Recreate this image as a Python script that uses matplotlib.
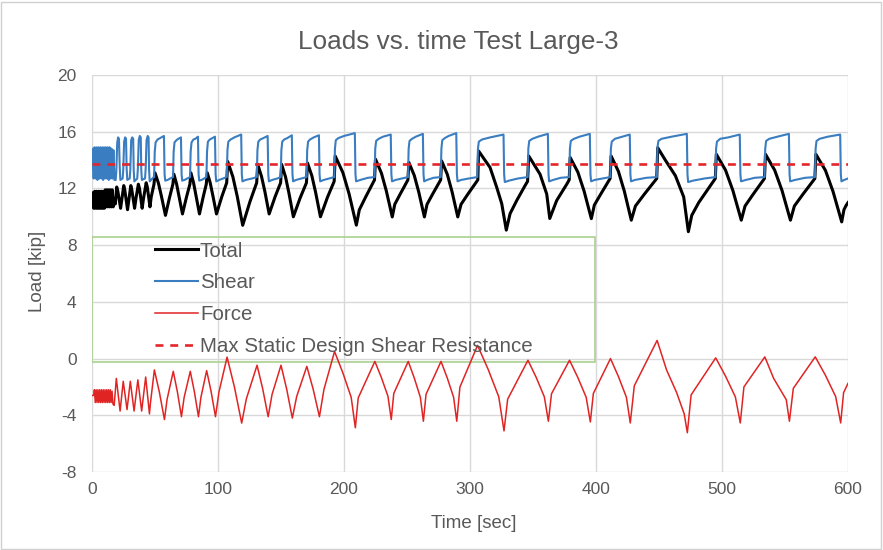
import numpy as np
from matplotlib import pyplot as plt
from matplotlib.patches import Rectangle

plt.rcParams['font.family'] = ['Liberation Sans', 'DejaVu Sans']
plt.rcParams['axes.unicode_minus'] = False

# (time [sec], load [kip]) vertices
shear = [
    # fast start-up cycles
    (0, 13.4), (0.5, 14.8), (1.3, 12.7), (2.0, 14.9), (2.8, 12.7), (3.5, 14.9), (4.3, 12.6),
    (5.0, 14.9), (5.8, 12.7), (6.5, 14.9), (7.3, 12.7), (8.0, 14.9), (8.8, 12.6), (9.5, 14.9),
    (10.3, 12.7), (11.0, 14.9), (11.8, 12.7), (12.5, 14.9), (13.3, 12.6), (14.0, 14.9),
    (14.8, 12.7), (15.5, 14.8), (16.3, 12.7), (17.0, 14.7), (17.8, 12.6),
    # narrow cycles
    (18.8, 12.6), (19.3, 13.2), (20.0, 15.2), (20.7, 15.6), (21.4, 15.5), (22.0, 13.5), (22.5, 12.6),
    (24.3, 12.7), (24.8, 13.3), (25.5, 15.3), (26.3, 15.6), (27.0, 15.5), (27.5, 13.4), (28.0, 12.6),
    (29.9, 12.7), (30.4, 13.3), (31.1, 15.4), (31.9, 15.6), (32.7, 15.5), (33.1, 13.3), (33.6, 12.5),
    (35.9, 12.7), (36.4, 13.4), (37.1, 15.4), (37.9, 15.7), (38.7, 15.6), (39.1, 13.3), (39.6, 12.6),
    (42.1, 12.7), (42.6, 13.4), (43.3, 15.4), (44.2, 15.7), (44.9, 15.6), (45.3, 13.3), (45.8, 12.5),
    (49.0, 12.8),
    # long cycles
    (49.3, 12.8), (49.8, 14.6), (50.5, 15.25), (52.0, 15.45), (54.0, 15.55), (57.1, 15.7), (57.6, 13.0), (58.1, 12.55), (60, 12.6), (62, 12.7),
    (64.3, 12.8), (64.8, 14.6), (65.5, 15.25), (67, 15.4), (68.5, 15.5), (70.6, 15.6), (71.1, 13.0), (71.6, 12.55), (73.5, 12.6), (75.5, 12.7),
    (77.8, 12.8), (78.3, 14.6), (79, 15.25), (80.5, 15.45), (82, 15.5), (84.1, 15.65), (84.6, 13.0), (85.1, 12.55), (87, 12.6), (89, 12.7),
    (90.8, 12.8), (91.3, 14.6), (92, 15.3), (93.5, 15.45), (95.5, 15.55), (97.6, 15.65), (98.1, 13.0), (98.6, 12.5), (101, 12.6), (104, 12.7),
    (107.0, 12.8), (107.5, 14.7), (108.2, 15.3), (110, 15.45), (113, 15.6), (118.4, 15.8), (118.9, 13.0), (119.4, 12.5), (122, 12.6), (127, 12.7),
    (130.8, 12.8), (131.3, 14.7), (132, 15.3), (133.5, 15.45), (136, 15.55), (139.4, 15.7), (139.9, 13.0), (140.4, 12.5), (143, 12.6), (147, 12.7),
    (149.8, 12.8), (150.3, 14.7), (151, 15.3), (152.5, 15.45), (155, 15.55), (158.6, 15.75), (159.1, 13.0), (159.6, 12.5), (162, 12.6), (166, 12.7),
    (170.3, 12.8), (170.8, 14.7), (171.5, 15.3), (173, 15.45), (176, 15.6), (180.1, 15.75), (180.6, 13.0), (181.1, 12.5), (184, 12.6), (188, 12.7),
    (192.3, 12.8), (192.8, 14.8), (193.5, 15.4), (195.5, 15.55), (200, 15.7), (208.6, 15.9), (209.1, 13.0), (209.6, 12.5), (213, 12.6), (219, 12.75),
    (224.3, 12.8), (224.8, 14.8), (225.5, 15.35), (227.5, 15.5), (231, 15.65), (237.1, 15.8), (237.6, 13.0), (238.1, 12.5), (241, 12.6), (246, 12.7),
    (250.8, 12.8), (251.3, 14.8), (252, 15.35), (254, 15.5), (257, 15.65), (262.6, 15.85), (263.1, 13.0), (263.6, 12.5), (266, 12.6), (271, 12.75),
    (276.8, 12.8), (277.3, 14.8), (278, 15.4), (280, 15.55), (283, 15.7), (289.1, 15.9), (289.6, 13.0), (290.1, 12.5), (293, 12.6), (299, 12.7),
    (305.8, 12.8), (306.3, 14.8), (307, 15.3), (309.5, 15.45), (316, 15.6), (326.6, 15.8), (327.1, 13.0), (327.6, 12.45), (331, 12.55), (338, 12.7),
    (345.8, 12.8), (346.3, 14.8), (347, 15.35), (349.5, 15.5), (354, 15.65), (361.8, 15.85), (362.3, 13.0), (362.8, 12.5), (366, 12.6), (372, 12.75),
    (378.8, 12.8), (379.3, 14.8), (380, 15.35), (382.5, 15.5), (387, 15.65), (395.1, 15.85), (395.6, 13.0), (396.1, 12.5), (399, 12.6), (405, 12.7),
    (411.3, 12.8), (411.8, 14.8), (412.5, 15.3), (415, 15.5), (419, 15.6), (426.8, 15.8), (427.3, 13.0), (427.8, 12.5), (431, 12.6), (440, 12.75),
    (448.3, 12.8), (448.8, 14.9), (449.5, 15.35), (452, 15.5), (460, 15.65), (472.1, 15.85), (472.6, 13.0), (473.1, 12.45), (477, 12.55), (486, 12.7),
    (494.8, 12.8), (495.3, 14.8), (496, 15.3), (498.5, 15.5), (505, 15.6), (514.1, 15.8), (514.6, 13.0), (515.1, 12.5), (519, 12.6), (526, 12.75),
    (533.8, 12.8), (534.3, 14.8), (535, 15.35), (537.5, 15.5), (544, 15.65), (553.1, 15.85), (553.6, 13.0), (554.1, 12.5), (558, 12.6), (566, 12.75),
    (573.8, 12.8), (574.3, 14.8), (575, 15.35), (577.5, 15.5), (584, 15.65), (593.8, 15.8), (594.3, 13.0), (594.8, 12.5), (597, 12.6), (600, 12.7),
]

force = [
    (0, -2.6), (1.4, -2.6), (1.9, -2.2), (2.6, -3.1), (3.3, -2.2), (4.0, -3.1), (4.7, -2.2),
    (5.4, -3.1), (6.1, -2.2), (6.8, -3.1), (7.5, -2.2), (8.2, -3.1), (8.9, -2.2), (9.6, -3.1),
    (10.3, -2.2), (11.0, -3.1), (11.7, -2.2), (12.4, -3.1), (13.1, -2.2), (13.8, -3.1),
    (14.5, -2.2), (15.2, -3.1), (15.9, -2.3), (16.6, -3.2),
    (17.6, -3.3), (19.3, -1.4), (22.3, -3.7), (24.8, -1.6), (27.8, -3.6), (30.4, -1.6),
    (33.4, -3.7), (36.4, -1.5), (39.4, -3.7), (42.6, -1.3), (45.6, -3.9), (46.3, -3.2),
    (49.5, -0.8), (53.5, -2.38), (57.5, -4.3), (59.6, -2.87),
    (64.5, -0.9), (67.75, -2.34), (71, -4.1), (73.1, -2.75),
    (78, -0.9), (81.25, -2.34), (84.5, -4.1), (86.45, -2.73),
    (91, -0.85), (94.5, -2.31), (98, -4.1), (100.8, -2.34),
    (107.2, 0.1), (113, -1.99), (118.8, -4.55), (122.5, -2.84),
    (131, -0.47), (135.4, -2.1), (139.8, -4.1), (142.9, -2.53),
    (150, -0.47), (154.5, -2.15), (159, -4.2), (162.45, -2.67),
    (170.5, -0.55), (175.5, -2.15), (180.5, -4.1), (184.1, -2.17),
    (192.5, 0.5), (199.1, -1.01), (205.7, -2.73), (209, -4.88), (211.3, -2.77),
    (224.5, -0.2), (229.7, -1.35), (234.9, -2.66), (237.5, -4.3), (239.5, -2.46),
    (251, -0.2), (255.8, -1.38), (260.6, -2.73), (263, -4.42), (265.1, -2.52),
    (277, -0.2), (282, -1.38), (287, -2.73), (289.5, -4.42), (292, -2.01),
    (306, 0.93), (314.4, -0.76), (322.8, -2.69), (327, -5.1), (329.9, -2.86),
    (346, -0.12), (352.5, -1.32), (359, -2.7), (362.2, -4.42), (364.7, -2.48),
    (379, -0.12), (385.6, -1.34), (392.2, -2.73), (395.5, -4.47), (397.9, -2.46),
    (411.5, 0.0), (417.8, -1.27), (424.1, -2.72), (427.2, -4.54), (430.4, -1.92),
    (448.5, 1.28), (456, -0.8), (464, -2.4), (470, -3.9), (472.5, -5.23), (475.5, -2.56),
    (495, 0.05), (502.8, -1.24), (510.6, -2.7), (514.5, -4.54), (517.4, -2.0),
    (534, 0.12), (541, -1.4), (551, -2.9), (553.5, -4.42), (556.6, -2.1),
    (574, 0.12), (582.1, -1.18), (590.2, -2.68), (594.2, -4.54), (596.5, -2.4), (600, -1.75),
]

total = [
    (0, 11.0), (0.7, 11.7), (1.4, 10.6), (2.1, 11.8), (2.8, 10.6), (3.5, 11.8), (4.2, 10.6),
    (4.9, 11.8), (5.6, 10.6), (6.3, 11.8), (7.0, 10.6), (7.7, 11.8), (8.4, 10.6), (9.1, 11.8),
    (9.8, 10.6), (10.5, 11.9), (11.2, 10.7), (11.9, 11.9), (12.6, 10.7), (13.3, 11.9),
    (14.0, 10.7), (14.7, 11.9), (15.4, 10.7), (16.1, 11.9), (16.8, 10.7), (17.6, 11.3),
    (18.5, 10.9), (19.6, 12.1), (20.5, 11.8), (22.7, 10.6), (23.8, 11.3), (25.2, 12.2),
    (26.0, 11.9), (28.2, 10.5), (29.3, 11.2), (30.8, 12.2), (31.6, 11.9), (33.8, 10.6),
    (34.9, 11.3), (36.8, 12.3), (37.7, 12.0), (39.8, 10.6), (40.9, 11.3), (43.0, 12.4),
    (43.9, 12.1), (46.0, 10.7), (47.0, 11.4), (49.2, 12.3),
    (50.0, 13.1), (52.7, 12.38), (55.1, 11.45), (58.3, 10.1), (61.4, 11.31), (64.2, 12.3),
    (65.0, 13.0), (67.1, 12.33), (69.05, 11.46), (71.8, 10.2), (74.9, 11.36), (77.7, 12.3),
    (78.5, 13.1), (80.6, 12.4), (82.55, 11.5), (85.3, 10.2), (88.15, 11.36), (90.7, 12.3),
    (91.5, 13.1), (93.8, 12.4), (95.9, 11.5), (98.8, 10.2), (103.0, 11.41), (106.9, 12.4),
    (107.7, 13.9), (111.8, 12.82), (115.3, 11.43), (119.6, 9.4), (125.3, 11.05), (130.7, 12.4),
    (131.5, 13.7), (134.5, 12.86), (137.2, 11.78), (140.6, 10.2), (145.3, 11.41), (149.7, 12.4),
    (150.5, 13.7), (153.6, 12.81), (156.3, 11.67), (159.8, 10.0), (165.15, 11.32), (170.2, 12.4),
    (171.0, 13.8), (174.5, 12.89), (177.5, 11.71), (181.3, 10.0), (186.9, 11.38), (192.2, 12.5),
    (193.0, 14.29), (199.1, 13.12), (204.05, 11.61), (209.8, 9.41), (212.15, 10.49), (217.15, 11.39), (224.2, 12.6),
    (225.0, 14.06), (229.7, 13.08), (233.6, 11.82), (238.3, 9.99), (240.3, 10.88), (244.65, 11.61), (250.7, 12.6),
    (251.5, 13.83), (255.8, 12.91), (259.4, 11.72), (263.8, 9.99), (265.9, 10.88), (270.4, 11.61), (276.7, 12.6),
    (277.5, 13.94), (282.0, 12.99), (285.75, 11.77), (290.3, 9.99), (292.9, 10.88), (298.4, 11.61), (306.2, 12.6),
    (306.8, 14.64), (315.9, 13.48), (321.2, 12.08), (325.2, 10.92), (328.8, 9.06), (331.8, 10.22), (337.1, 11.15), (343.7, 12.2), (345.7, 12.5),
    (346.6, 14.29), (355.6, 13.0), (360.9, 11.6), (363.3, 9.88), (368.8, 11.15), (376.8, 12.3), (378.7, 12.6),
    (379.5, 14.18), (385.6, 13.15), (390.55, 11.81), (396.3, 9.87), (398.7, 10.83), (403.9, 11.62), (411.2, 12.7),
    (412.0, 14.29), (417.8, 13.2), (422.5, 11.8), (428.0, 9.76), (431.3, 10.76), (438.25, 11.58), (448.2, 12.7),
    (449.0, 14.87), (455, 14.0), (463, 12.9), (469.6, 11.4), (473.3, 8.95), (476, 10.1), (481.5, 11.0), (494.7, 12.7),
    (495.5, 14.41), (502.8, 13.29), (508.65, 11.85), (515.3, 9.76), (518.3, 10.76), (524.65, 11.58), (533.7, 12.7),
    (534.5, 14.41), (541.8, 13.29), (547.65, 11.85), (554.3, 9.76), (557.45, 10.76), (564.15, 11.58), (573.7, 12.7),
    (574.5, 14.41), (582.1, 13.27), (588.1, 11.79), (595.0, 9.64), (596.8, 10.5), (598.5, 10.8), (600, 11.0),
]

max_static_shear = 13.7   # kip
t_range = [0, 600]

grey_text = '#595959'
c_total = 'black'
c_shear = '#3A7DC0'
c_force = '#E02424'
c_max = '#E3262A'

fig = plt.figure(figsize=(8.83, 5.5), dpi=100)
ax = fig.add_axes([92/883, 1 - 472/550, 756/883, 397/550])

tt, tv = np.array(total).T
st, sv = np.array(shear).T
ft, fv = np.array(force).T

ax.plot(tt, tv, color=c_total, lw=2.2, label='Total', zorder=3)
ax.plot(st, sv, color=c_shear, lw=1.5, label='Shear', zorder=4)
ax.plot(ft, fv, color=c_force, lw=1.1, label='Force', zorder=4)
ax.plot(t_range, [max_static_shear]*2, color=c_max, lw=1.9, dashes=(3.0, 2.6),
        label='Max Static Design Shear Resistance', zorder=5)

ax.set_xlim(0, 600)
ax.set_ylim(-8, 20)
ax.set_xticks(np.arange(0, 601, 100))
ax.set_yticks(np.arange(-8, 21, 4))
ax.grid(True, color='#D9D9D9', lw=1)
ax.set_axisbelow(True)
for s in ax.spines.values():
    s.set_visible(False)
ax.tick_params(length=0, labelsize=12.5, colors=grey_text)
ax.tick_params(axis='y', pad=11)
ax.tick_params(axis='x', pad=7)

fig.text(458/883, 1 - 42/550, 'Loads vs. time Test Large-3', ha='center', va='center',
         fontsize=18.8, color=grey_text)
fig.text(37/883, 1 - 271/550, 'Load [kip]', rotation=90, ha='center', va='center',
         fontsize=13.5, color=grey_text)
fig.text(474/883, 1 - 524/550, 'Time [sec]', ha='center', va='center',
         fontsize=13.5, color=grey_text)

# legend box drawn by hand (Excel-style, wide green frame)
ax.add_patch(Rectangle((0, 0.277), 0.6653, 0.315, transform=ax.transAxes, fill=False,
                       ec='#A9D18E', lw=1.2, zorder=2))
leg = ax.legend(loc='upper left', bbox_to_anchor=(0.0833, 0.5806), frameon=False,
                borderaxespad=0, borderpad=0, handlelength=2.09, handletextpad=0.1,
                labelspacing=0.63, fontsize=14.8)
for txt in leg.get_texts():
    txt.set_color(grey_text)

fig.patches.append(Rectangle((0.001, 0.002), 0.997, 0.995, transform=fig.transFigure,
                             fill=False, ec='#D0D0D0', lw=1))

fig.savefig('out.png', dpi=100)
